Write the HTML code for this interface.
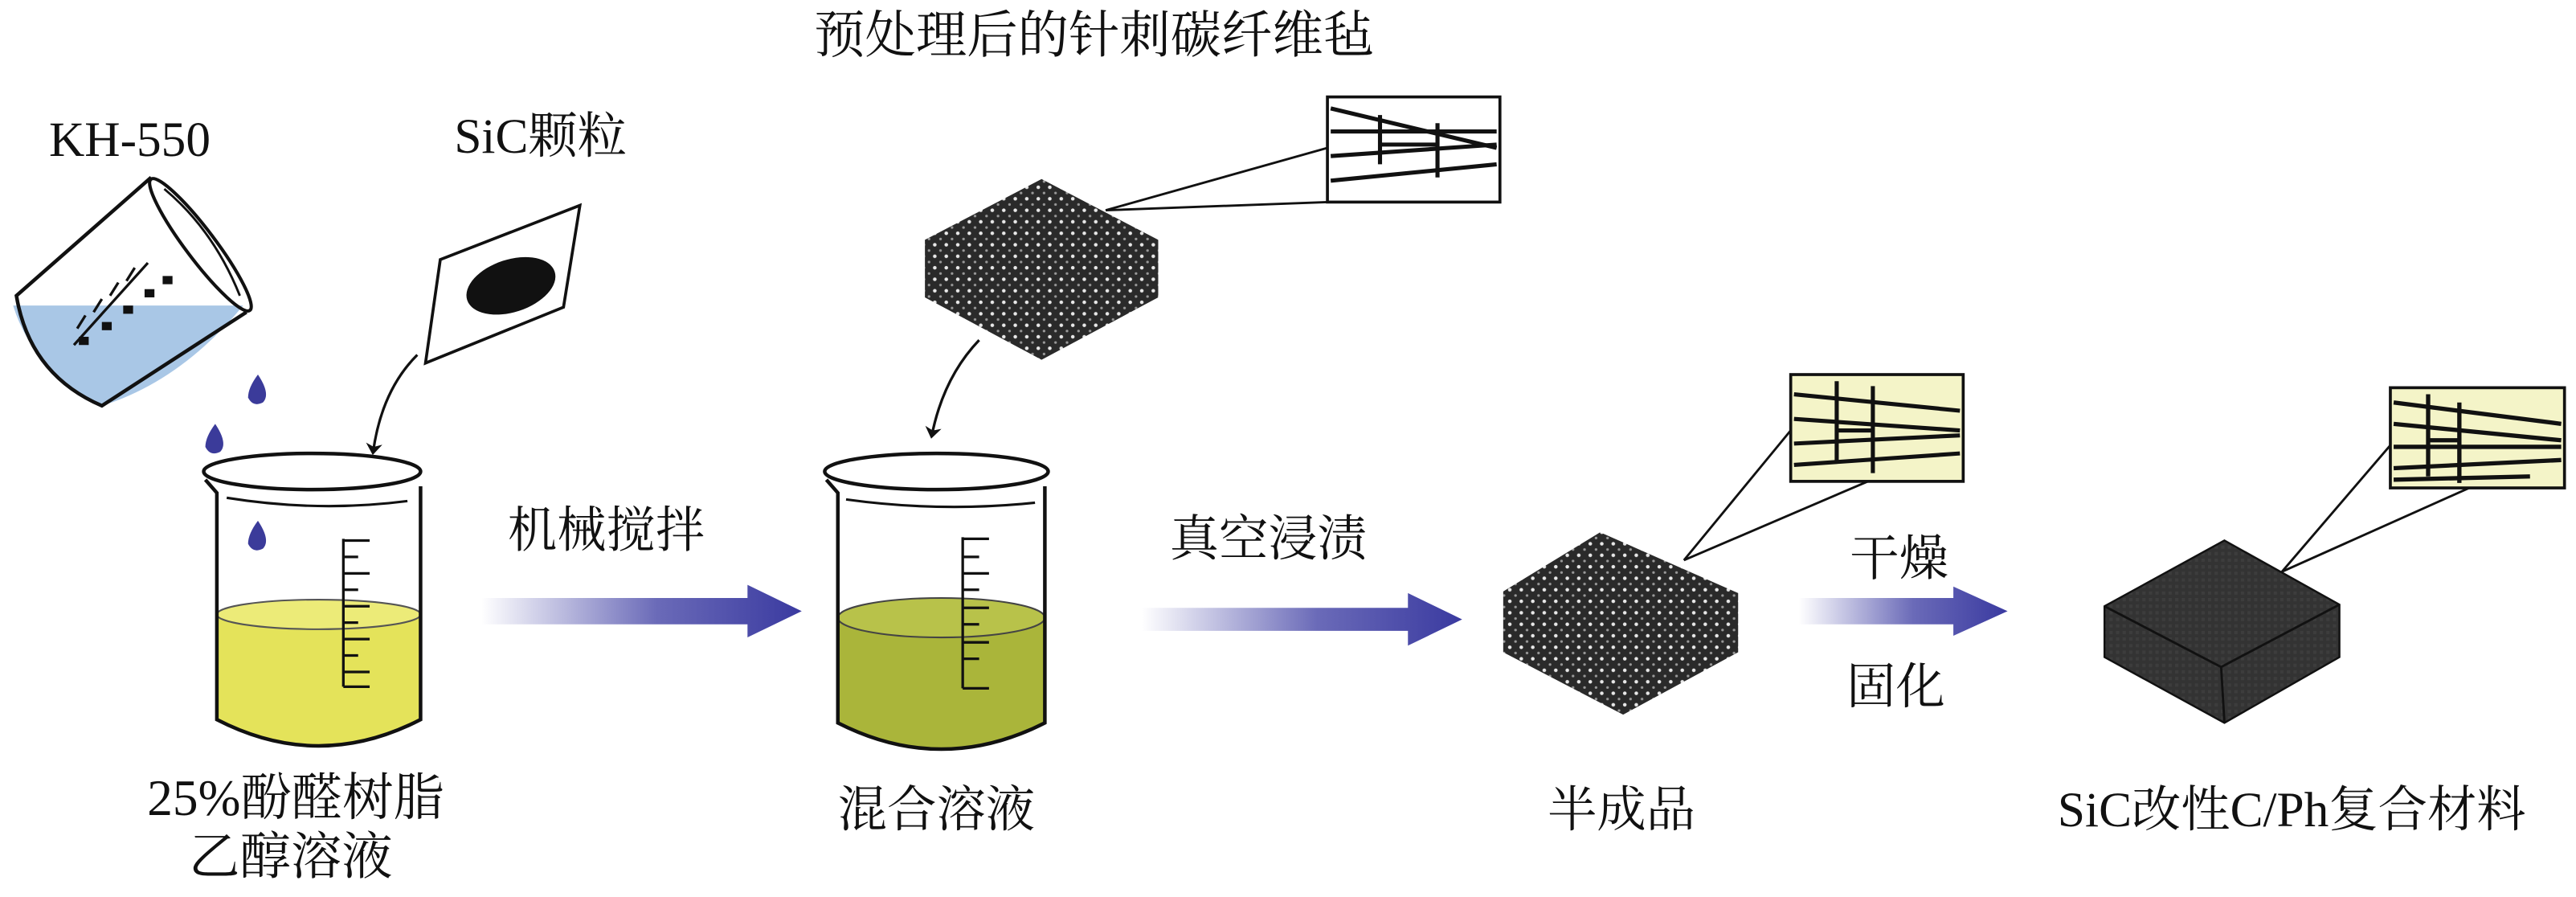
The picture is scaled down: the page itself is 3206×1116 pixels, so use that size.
<!DOCTYPE html>
<html><head><meta charset="utf-8"><style>
html,body{margin:0;padding:0;background:#fff;}
svg{display:block;}
text{font-family:"Liberation Serif","Noto Serif CJK SC",serif;fill:#111;}
</style></head><body>
<svg width="3206" height="1116" viewBox="0 0 1568 546" preserveAspectRatio="none" xmlns="http://www.w3.org/2000/svg">
<defs>
<pattern id="dots" width="7" height="7" patternUnits="userSpaceOnUse">
<rect width="7" height="7" fill="#2a2a2a"/>
<circle cx="2" cy="2" r="1.1" fill="#e8e8e8"/>
<circle cx="5.5" cy="5.5" r="0.8" fill="#999"/>
</pattern>
<pattern id="weave" width="4" height="4" patternUnits="userSpaceOnUse">
<rect width="4" height="4" fill="#333"/>
<rect width="2" height="2" fill="#3d3d3d"/>
</pattern>
<linearGradient id="ag" x1="0" x2="1" y1="0" y2="0">
<stop offset="0" stop-color="#fff"/>
<stop offset="0.55" stop-color="#6a6ab8"/>
<stop offset="1" stop-color="#3a3aa0"/>
</linearGradient>
<marker id="ah" markerWidth="10" markerHeight="10" refX="6" refY="5" orient="auto" markerUnits="userSpaceOnUse">
<path d="M0,0 L7,5 L0,10 L2,5 z" fill="#111"/>
</marker>
</defs>

<!-- texts -->
<text x="666" y="32" font-size="31" text-anchor="middle">预处理后的针刺碳纤维毡</text>
<text x="79" y="95" font-size="30" text-anchor="middle">KH-550</text>
<text x="329" y="93" font-size="30" text-anchor="middle">SiC颗粒</text>
<text x="180" y="496" font-size="31" text-anchor="middle">25%酚醛树脂</text>
<text x="177" y="532" font-size="31" text-anchor="middle">乙醇溶液</text>
<text x="369" y="333" font-size="30" text-anchor="middle">机械搅拌</text>
<text x="772" y="338" font-size="30" text-anchor="middle">真空浸渍</text>
<text x="570" y="503" font-size="30" text-anchor="middle">混合溶液</text>
<text x="987" y="503" font-size="30" text-anchor="middle">半成品</text>
<text x="1156" y="350" font-size="30" text-anchor="middle">干燥</text>
<text x="1154" y="428" font-size="30" text-anchor="middle">固化</text>
<text x="1395" y="503" font-size="30" text-anchor="middle">SiC改性C/Ph复合材料</text>

<!-- tilted beaker -->
<path d="M8,186 L148,186 Q110,232 62,247 Q20,225 8,186 z" fill="#a9c7e6"/>
<path d="M92,108 L10,180 Q18,228 62,247 L150,190" fill="none" stroke="#111" stroke-width="2.2"/>
<ellipse cx="122" cy="149" rx="50" ry="9" transform="rotate(53 122 149)" fill="none" stroke="#111" stroke-width="2"/>
<path d="M100,115 Q130,140 146,180" fill="none" stroke="#111" stroke-width="1.4"/>
<g stroke="#111" stroke-width="1.6">
<line x1="45" y1="210" x2="90" y2="160"/>
<line x1="52" y1="192" x2="47" y2="200"/><line x1="62" y1="182" x2="57" y2="190"/><line x1="72" y1="172" x2="67" y2="180"/><line x1="82" y1="163" x2="77" y2="171"/>
</g>
<g fill="#111"><rect x="48" y="205" width="6" height="5"/><rect x="62" y="196" width="6" height="5"/><rect x="75" y="186" width="6" height="5"/><rect x="88" y="176" width="6" height="5"/><rect x="99" y="168" width="6" height="5"/></g>

<!-- SiC paper -->
<polygon points="268,158 353,125 343,187 259,221" fill="#fff" stroke="#111" stroke-width="1.8"/>
<ellipse cx="311" cy="174" rx="28" ry="16" transform="rotate(-18 311 174)" fill="#111"/>
<path d="M254,216 Q232,238 227,276" fill="none" stroke="#111" stroke-width="1.6" marker-end="url(#ah)"/>

<!-- drops -->
<g fill="#3b3b9a"><path d="M157,228 Q165,240 160,245 Q154,248 151,242 Q151,236 157,228z"/><path d="M131,258 Q139,270 134,275 Q128,278 125,272 Q125,266 131,258z"/><path d="M157,317 Q165,329 160,334 Q154,337 151,331 Q151,325 157,317z"/></g>

<!-- beaker 1 -->
<path d="M132,374 Q194,360 256,374 L256,438 Q194,470 132,438 z" fill="#e4e35a"/>
<ellipse cx="194" cy="374" rx="62" ry="9" fill="#eceb78" stroke="#555" stroke-width="1"/>
<path d="M125,292 L132,300 L132,438 Q194,470 256,438 L256,296" fill="none" stroke="#111" stroke-width="2.2"/>
<ellipse cx="190" cy="287" rx="66" ry="11" fill="none" stroke="#111" stroke-width="2.2"/>
<path d="M138,303 Q194,312 248,305" fill="none" stroke="#111" stroke-width="1.5"/>
<g stroke="#111" stroke-width="1.6"><line x1="209" y1="328" x2="209" y2="418"/>
<line x1="209" y1="329" x2="225" y2="329"/><line x1="209" y1="339" x2="218" y2="339"/><line x1="209" y1="349" x2="225" y2="349"/><line x1="209" y1="359" x2="218" y2="359"/><line x1="209" y1="369" x2="225" y2="369"/><line x1="209" y1="379" x2="218" y2="379"/><line x1="209" y1="389" x2="225" y2="389"/><line x1="209" y1="399" x2="218" y2="399"/><line x1="209" y1="409" x2="225" y2="409"/><line x1="209" y1="418" x2="225" y2="418"/></g>

<!-- arrow 1 -->
<path d="M293,364 L455,364 L455,356 L488,372 L455,388 L455,380 L293,380 z" fill="url(#ag)"/>

<!-- felt -->
<polygon points="634,109 705,146 705,181 634,219 563,181 563,146" fill="url(#dots)"/>
<line x1="673" y1="128" x2="808" y2="90" stroke="#111" stroke-width="1.4"/>
<line x1="673" y1="128" x2="808" y2="123" stroke="#111" stroke-width="1.4"/>
<rect x="808" y="59" width="105" height="64" fill="#fff" stroke="#111" stroke-width="1.8"/>
<g stroke="#111" stroke-width="2.5" fill="none"><path d="M810,66 L911,90"/><path d="M810,80 L911,80"/><path d="M810,95 L911,88"/><path d="M810,110 L911,100"/><path d="M840,70 L840,100"/><path d="M875,75 L875,108"/><path d="M840,88 L875,88"/></g>
<path d="M596,207 Q574,230 567,266" fill="none" stroke="#111" stroke-width="1.6" marker-end="url(#ah)"/>

<!-- beaker 2 -->
<path d="M510,376 Q573,362 636,376 L636,440 Q573,472 510,440 z" fill="#aab53a"/>
<ellipse cx="573" cy="376" rx="63" ry="12" fill="#b8c24a" stroke="#444" stroke-width="1"/>
<path d="M503,292 L510,300 L510,440 Q573,472 636,440 L636,296" fill="none" stroke="#111" stroke-width="2.2"/>
<ellipse cx="570" cy="287" rx="68" ry="11" fill="none" stroke="#111" stroke-width="2.2"/>
<path d="M515,304 Q573,312 630,306" fill="none" stroke="#111" stroke-width="1.5"/>
<g stroke="#111" stroke-width="1.6"><line x1="586" y1="327" x2="586" y2="419"/>
<line x1="586" y1="328" x2="602" y2="328"/><line x1="586" y1="339" x2="596" y2="339"/><line x1="586" y1="349" x2="602" y2="349"/><line x1="586" y1="359" x2="596" y2="359"/><line x1="586" y1="370" x2="602" y2="370"/><line x1="586" y1="380" x2="596" y2="380"/><line x1="586" y1="391" x2="602" y2="391"/><line x1="586" y1="401" x2="596" y2="401"/><line x1="586" y1="419" x2="602" y2="419"/></g>

<!-- arrow 2 -->
<path d="M695,370 L857,370 L857,361 L890,377 L857,393 L857,384 L695,384 z" fill="url(#ag)"/>

<!-- semi product -->
<polygon points="974,324 1058,361 1058,397 988,435 915,397 915,360" fill="url(#dots)"/>
<line x1="1025" y1="341" x2="1090" y2="262" stroke="#111" stroke-width="1.4"/>
<line x1="1025" y1="341" x2="1137" y2="293" stroke="#111" stroke-width="1.4"/>
<rect x="1090" y="228" width="105" height="65" fill="#f4f4c8" stroke="#111" stroke-width="1.8"/>
<g stroke="#111" stroke-width="2.5" fill="none"><path d="M1092,240 L1193,250"/><path d="M1092,255 L1193,262"/><path d="M1092,270 L1193,265"/><path d="M1092,283 L1193,276"/><path d="M1118,232 L1118,282"/><path d="M1140,235 L1140,288"/><path d="M1118,262 L1140,262"/></g>

<!-- arrow 3 -->
<path d="M1095,364 L1189,364 L1189,357 L1222,372 L1189,387 L1189,380 L1095,380 z" fill="url(#ag)"/>

<!-- final cube -->
<polygon points="1354,329 1424,368 1424,400 1354,440 1281,400 1281,369" fill="url(#weave)" stroke="#111" stroke-width="1.2"/>
<path d="M1281,369 L1352,406 L1424,368 M1352,406 L1354,440" fill="none" stroke="#111" stroke-width="1.4"/>
<line x1="1389" y1="348" x2="1455" y2="271" stroke="#111" stroke-width="1.4"/>
<line x1="1389" y1="348" x2="1503" y2="297" stroke="#111" stroke-width="1.4"/>
<rect x="1455" y="236" width="106" height="61" fill="#f4f4c8" stroke="#111" stroke-width="1.8"/>
<g stroke="#111" stroke-width="2.6" fill="none"><path d="M1457,245 L1559,258"/><path d="M1457,258 L1559,268"/><path d="M1457,272 L1559,272"/><path d="M1457,285 L1559,280"/><path d="M1457,292 L1540,290"/><path d="M1478,240 L1478,290"/><path d="M1497,245 L1497,294"/><path d="M1478,268 L1497,268"/></g>
</svg>
</body></html>
